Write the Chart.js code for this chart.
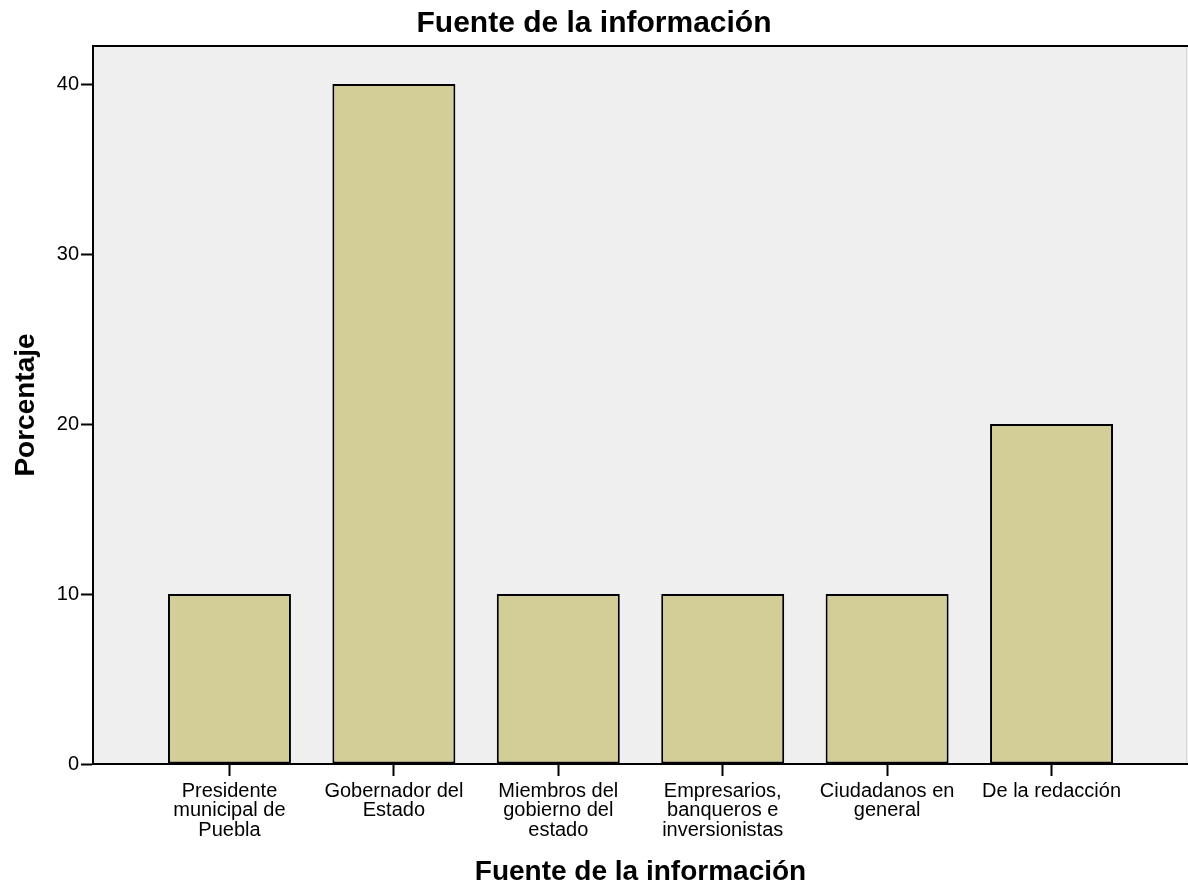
<!DOCTYPE html>
<html>
<head>
<meta charset="utf-8">
<script src="https://cdn.jsdelivr.net/npm/chart.js@4/dist/chart.umd.min.js"></script>
<style>
    body { margin: 0; background: #fff; }
    #wrap { width: 1188px; height: 888px; }
</style>
</head>
<body>
<div id="wrap"><canvas id="fuente" width="1188" height="888"></canvas></div>
<script>
    // categorias (etiquetas del eje x, en varias lineas)
    var categorias = [
        ["Presidente", "municipal de", "Puebla"],
        ["Gobernador del", "Estado"],
        ["Miembros del", "gobierno del", "estado"],
        ["Empresarios,", "banqueros e", "inversionistas"],
        ["Ciudadanos en", "general"],
        ["De la redacción"]
    ];
    var porcentajes = [10, 40, 10, 10, 10, 20];
    var ticksY = [0, 10, 20, 30, 40];

    var puntos = [];
    for (var i = 0; i < categorias.length; i++) {
        puntos.push({x: i, y: porcentajes[i]});
    }

    var fuenteTexto = 'Liberation Sans, Arial, sans-serif';

    /*fondo gris y borde superior del area*/
    var fondo = {
        id: 'fondo',
        beforeDraw: function (chart) {
            var a = chart.chartArea, ctx = chart.ctx;
            ctx.save();
            ctx.fillStyle = '#efefef';
            ctx.fillRect(a.left, a.top, a.right - a.left, a.bottom - a.top);
            ctx.strokeStyle = '#d8d8d8';
            ctx.lineWidth = 1;
            ctx.beginPath();
            ctx.moveTo(a.right - 1.5, a.top);
            ctx.lineTo(a.right - 1.5, a.bottom);
            ctx.stroke();
            ctx.strokeStyle = '#000';
            ctx.lineWidth = 2;
            ctx.beginPath();
            ctx.moveTo(a.left, a.top);
            ctx.lineTo(a.right, a.top);
            ctx.stroke();
            ctx.restore();
        }
    };

    var ctx = document.getElementById("fuente").getContext('2d');
    var chart_fuente = new Chart(ctx, {
        type: 'bar',
        data: {
            datasets: [{
                label: 'Porcentaje',
                data: puntos,
                backgroundColor: '#d3ce98',
                borderColor: '#000',
                borderWidth: 2,
                borderSkipped: false,
                barPercentage: 0.748,
                categoryPercentage: 1
            }]
        },
        options: {
            responsive: false,
            animation: false,
            layout: {padding: 0},
            plugins: {
                legend: {display: false},
                tooltip: {enabled: false},
                title: {
                    display: true,
                    text: 'Fuente de la información',
                    color: '#000',
                    font: {family: fuenteTexto, size: 30, weight: 'bold', lineHeight: 1.2},
                    padding: {top: 6, bottom: 4}
                }
            },
            scales: {
                x: {
                    type: 'linear',
                    min: -0.83,
                    max: 5.83,
                    offset: false,
                    afterBuildTicks: function (scale) {
                        scale.ticks = categorias.map(function (c, i) { return {value: i}; });
                    },
                    afterFit: function (scale) { scale.height = 124; },
                    grid: {
                        offset: false,
                        drawOnChartArea: false,
                        drawTicks: true,
                        tickLength: 12,
                        tickWidth: 2,
                        tickColor: '#000'
                    },
                    border: {display: true, color: '#000', width: 2},
                    ticks: {
                        autoSkip: false,
                        maxRotation: 0,
                        padding: 6,
                        color: '#000',
                        font: {family: fuenteTexto, size: 20, lineHeight: 0.96},
                        callback: function (v) { return categorias[v]; }
                    },
                    title: {
                        display: true,
                        text: 'Fuente de la información',
                        color: '#000',
                        font: {family: fuenteTexto, size: 28, weight: 'bold', lineHeight: 1.1},
                        padding: {top: 0, bottom: 0}
                    }
                },
                y: {
                    min: 0,
                    max: 42.24,
                    afterBuildTicks: function (scale) {
                        scale.ticks = ticksY.map(function (v) { return {value: v}; });
                    },
                    afterFit: function (scale) { scale.width = 93; },
                    grid: {
                        drawOnChartArea: false,
                        drawTicks: true,
                        tickLength: 12,
                        tickWidth: 2,
                        tickColor: '#000'
                    },
                    border: {display: true, color: '#000', width: 2},
                    ticks: {
                        padding: 2,
                        color: '#000',
                        font: {family: fuenteTexto, size: 20}
                    },
                    title: {
                        display: true,
                        text: 'Porcentaje',
                        color: '#000',
                        font: {family: fuenteTexto, size: 28, weight: 'bold', lineHeight: 1.2},
                        padding: {top: 9, bottom: 0}
                    }
                }
            }
        },
        plugins: [fondo]
    });
</script>
</body>
</html>
